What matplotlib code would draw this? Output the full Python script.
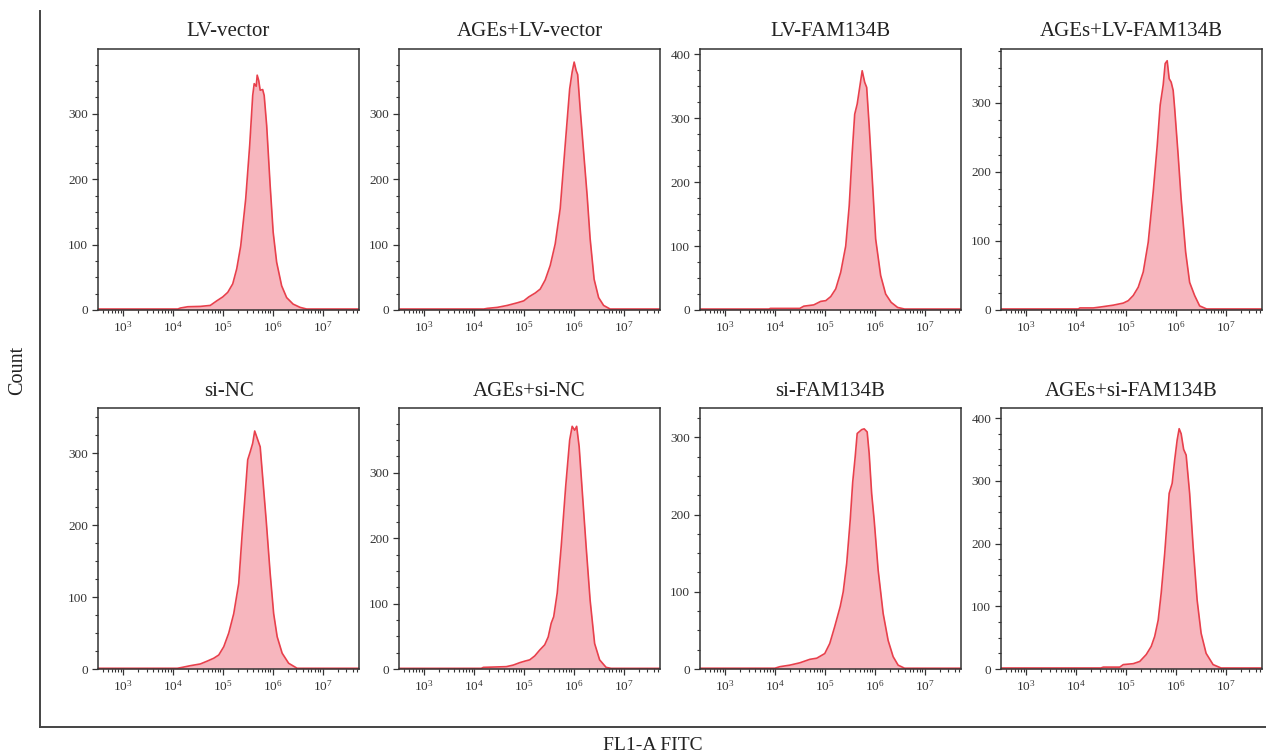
import numpy as np
import matplotlib.pyplot as plt
from matplotlib.lines import Line2D
from matplotlib.ticker import LogLocator, MultipleLocator

plt.rcParams["font.family"] = ["Liberation Serif", "DejaVu Serif"]
plt.rcParams["mathtext.fontset"] = "custom"
plt.rcParams["mathtext.rm"] = "Liberation Serif"
plt.rcParams["mathtext.it"] = "Liberation Serif:italic"

# histogram traces: log10(FL1-A) and event count
titles = ["LV-vector", "AGEs+LV-vector", "LV-FAM134B", "AGEs+LV-FAM134B",
          "si-NC", "AGEs+si-NC", "si-FAM134B", "AGEs+si-FAM134B"]

ymax = [399, 399, 408, 378, 363, 399, 338, 416]

lv_vector_x = [2.5, 4.1, 4.15, 4.3, 4.55, 4.75, 4.88, 5.0, 5.1, 5.2, 5.28, 5.36, 5.46,
               5.54, 5.6, 5.63, 5.67, 5.69, 5.72, 5.75, 5.8, 5.83, 5.88, 5.95, 6.01,
               6.08, 6.18, 6.28, 6.41, 6.55, 6.68, 7.73]
lv_vector_y = [1.5, 1.5, 3, 5, 5.5, 7, 14, 20, 27, 40, 63, 98, 170,
               252, 328, 346, 342, 359, 351, 336, 337, 328, 282, 190, 119,
               73, 37, 19, 9, 4, 1.5, 1.5]

ages_lv_vector_x = [2.5, 4.2, 4.27, 4.47, 4.67, 4.87, 5.0, 5.1, 5.23, 5.33, 5.43, 5.53,
                    5.63, 5.73, 5.83, 5.92, 5.97, 6.01, 6.05, 6.08, 6.13, 6.2, 6.27,
                    6.33, 6.41, 6.5, 6.6, 6.73, 7.73]
ages_lv_vector_y = [1.5, 1.5, 2.5, 4, 7, 11, 14, 20, 26, 32, 46, 68,
                    101, 155, 252, 338, 364, 379, 366, 360, 308, 241, 175,
                    109, 47, 19, 7, 1.5, 1.5]

lv_fam_x = [2.5, 3.88, 3.91, 4.5, 4.58, 4.78, 4.92, 5.02, 5.12, 5.22, 5.32, 5.42,
            5.49, 5.55, 5.6, 5.65, 5.7, 5.75, 5.8, 5.84, 5.89, 5.96, 6.02, 6.12,
            6.22, 6.33, 6.46, 6.6, 7.73]
lv_fam_y = [1.5, 1.5, 2.5, 2.5, 6, 8, 13.5, 14.6, 21, 33, 59, 100,
            163, 246, 306, 322, 348, 374, 356, 348, 288, 194, 111, 54,
            25, 12, 4, 1.5, 1.5]

ages_lv_fam_x = [2.5, 4.05, 4.08, 4.35, 4.5, 4.75, 4.95, 5.05, 5.15, 5.25, 5.35, 5.45,
                 5.55, 5.63, 5.69, 5.75, 5.79, 5.83, 5.87, 5.91, 5.95, 5.98, 6.05,
                 6.11, 6.2, 6.28, 6.38, 6.48, 6.62, 7.73]
ages_lv_fam_y = [1.5, 1.5, 3, 3, 4.4, 7, 10, 13.5, 21, 33, 55, 98,
                 171, 238, 297, 326, 357, 361, 335, 330, 318, 292, 224,
                 161, 84, 40, 21, 6, 1.5, 1.5]

si_nc_x = [2.5, 4.09, 4.19, 4.35, 4.55, 4.69, 4.82, 4.92, 5.02, 5.12, 5.22, 5.32,
           5.39, 5.45, 5.5, 5.55, 5.6, 5.64, 5.69, 5.75, 5.81, 5.87, 5.95, 6.02,
           6.09, 6.19, 6.32, 6.49, 7.73]
si_nc_y = [1, 1, 2.3, 4.6, 7, 11, 15, 19.5, 31, 50, 77, 119,
           189, 244, 291, 302, 314, 331, 321, 309, 258, 207, 133, 77,
           45, 22, 8, 1, 1]

ages_si_nc_x = [2.5, 4.15, 4.19, 4.65, 4.79, 4.92, 5.02, 5.12, 5.22, 5.32, 5.42, 5.49,
                5.55, 5.6, 5.67, 5.75, 5.84, 5.92, 5.97, 6.02, 6.06, 6.11, 6.17,
                6.25, 6.33, 6.42, 6.52, 6.65, 6.75, 7.73]
ages_si_nc_y = [1, 1, 2.5, 3.6, 6, 9.7, 12, 14, 20, 29, 37, 49,
                70, 80, 116, 187, 279, 350, 371, 365, 371, 340, 274,
                187, 105, 39, 14, 2.5, 1, 1]

si_fam_x = [2.5, 4.0, 4.1, 4.3, 4.5, 4.7, 4.84, 5.0, 5.1, 5.2, 5.31, 5.37,
            5.44, 5.51, 5.56, 5.61, 5.65, 5.74, 5.79, 5.85, 5.89, 5.94, 5.99,
            6.07, 6.17, 6.27, 6.37, 6.47, 6.6, 7.73]
si_fam_y = [1, 1, 3, 5, 8, 12.5, 14, 20, 33, 55, 81, 100,
            137, 193, 242, 275, 305, 310, 311, 307, 279, 227, 193,
            128, 72, 37, 16, 5, 1, 1]

ages_si_fam_x = [2.5, 4.5, 4.55, 4.88, 4.95, 5.15, 5.28, 5.41, 5.51, 5.58, 5.65, 5.71,
                 5.78, 5.87, 5.93, 5.98, 6.03, 6.07, 6.11, 6.16, 6.21, 6.28, 6.35,
                 6.43, 6.51, 6.61, 6.75, 6.91, 7.73]
ages_si_fam_y = [1.6, 1.6, 3, 3, 7, 8.5, 12, 23, 36, 52, 78, 121,
                 184, 280, 296, 333, 365, 383, 375, 350, 341, 280, 195,
                 110, 57, 25, 7, 1.6, 1.6]

traces = [(lv_vector_x, lv_vector_y), (ages_lv_vector_x, ages_lv_vector_y),
          (lv_fam_x, lv_fam_y), (ages_lv_fam_x, ages_lv_fam_y),
          (si_nc_x, si_nc_y), (ages_si_nc_x, ages_si_nc_y),
          (si_fam_x, si_fam_y), (ages_si_fam_x, ages_si_fam_y)]

FILL = "#f7b6be"
EDGE = "#e8404c"
DARK = "#333333"

W, H = 1266, 756
col_left = [98, 399, 700, 1001]
row_top = [49, 408]
ax_w, ax_h = 261, 261

fig = plt.figure(figsize=(W / 100, H / 100), dpi=100)

for i, (title, (lx, cy)) in enumerate(zip(titles, traces)):
    r, c = divmod(i, 4)
    x0 = col_left[c] / W
    y0 = 1 - (row_top[r] + ax_h) / H
    ax = fig.add_axes([x0, y0, ax_w / W, ax_h / H])

    xs = 10 ** np.array(lx)
    ax.fill_between(xs, cy, 0, color=FILL, lw=0)
    ax.plot(xs, cy, color=EDGE, lw=1.2)

    ax.set_xscale("log")
    ax.set_xlim(10 ** 2.5, 10 ** 7.73)
    ax.set_ylim(0, ymax[i])
    ax.xaxis.set_major_locator(LogLocator(base=10, numticks=12))
    ax.xaxis.set_minor_locator(LogLocator(base=10, subs=np.arange(2, 10), numticks=12))
    ax.yaxis.set_major_locator(MultipleLocator(100))
    ax.yaxis.set_minor_locator(MultipleLocator(25))

    ax.tick_params(which="both", direction="out", colors=DARK, labelsize=9.5,
                   top=False, right=False)
    ax.tick_params(which="major", length=4, width=0.9)
    ax.tick_params(which="minor", length=2.5, width=0.8)
    ax.tick_params(axis="y", pad=3)
    for sp in ax.spines.values():
        sp.set_color(DARK)
        sp.set_linewidth(1.1)

    ax.set_title(title, fontsize=15, color="#222222", pad=9)

# outer L frame
fig.add_artist(Line2D([40 / W, 40 / W], [1 - 11 / H, 1 - 727 / H],
                      color="#444444", lw=1.4))
fig.add_artist(Line2D([40 / W, 1.0], [1 - 727 / H, 1 - 727 / H],
                      color="#444444", lw=1.4))

fig.text(18 / W, 1 - 370 / H, "Count", rotation=90, ha="center", va="center",
         fontsize=14.5, color="#222222")
fig.text(653 / W, 1 - 745 / H, "FL1-A FITC", ha="center", va="center",
         fontsize=14, color="#222222")

fig.savefig("out.png", dpi=100)
